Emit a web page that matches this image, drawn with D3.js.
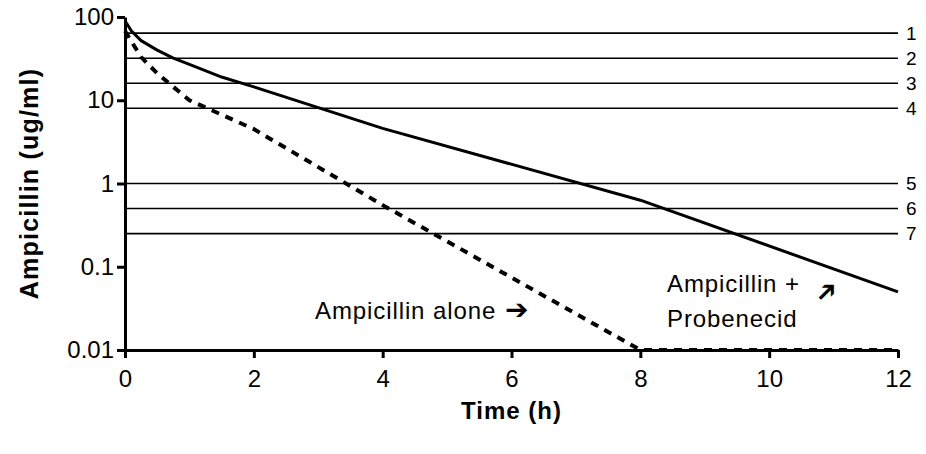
<!DOCTYPE html>
<html>
<head>
<meta charset="utf-8">
<script src="https://cdn.jsdelivr.net/npm/d3@7"></script>
<style>
  body { margin: 0; background: #fff; }
  svg { display: block; font-family: "Liberation Sans", Arial, sans-serif; }
</style>
</head>
<body>
<svg id="svg"></svg>
<script>
// time points (h) and concentrations (ug/ml)
const probTimes = [0, 0.1, 0.25, 0.5, 0.75, 1, 1.5, 2, 4, 8, 12];
const probValues = [90, 68, 52, 40, 32, 27, 19, 14.5, 4.6, 0.63, 0.05];

const aloneTimes = [0, 0.25, 0.5, 1, 2, 4, 8, 12];
const aloneValues = [68, 33, 21, 10, 4.5, 0.55, 0.01, 0.01];

// reference levels drawn as horizontal lines, numbered on the right
const levelValues = [64, 32, 16, 8, 1, 0.5, 0.25];
const levelLabels = ["1", "2", "3", "4", "5", "6", "7"];

const xTicks = [0, 2, 4, 6, 8, 10, 12];
const yTicks = [100, 10, 1, 0.1, 0.01];
const yTickLabels = ["100", "10", "1", "0.1", "0.01"];

const width = 926;
const height = 454;
const margin = { top: 17, right: 28, bottom: 104, left: 125 };
const chartWidth = width - margin.left - margin.right;
const chartHeight = height - margin.top - margin.bottom;

let svg = d3.select("#svg").attr("width", width).attr("height", height);

let chart = svg.append("g")
    .attr("transform", `translate(${margin.left},${margin.top})`);

const xScale = d3.scaleLinear().domain([0, 12]).range([0, chartWidth]);
const yScale = d3.scaleLog().domain([0.01, 100]).range([chartHeight, 0]);

// horizontal reference lines
chart.selectAll(".level")
    .data(levelValues)
    .enter().append("line")
    .attr("class", "level")
    .attr("x1", 0)
    .attr("x2", chartWidth)
    .attr("y1", d => yScale(d))
    .attr("y2", d => yScale(d))
    .attr("stroke", "#000")
    .attr("stroke-width", 1.6);

chart.selectAll(".level-label")
    .data(levelValues)
    .enter().append("text")
    .attr("class", "level-label")
    .attr("x", chartWidth + 8)
    .attr("y", d => yScale(d))
    .attr("dy", "0.36em")
    .style("font-size", "19px")
    .text((d, i) => levelLabels[i]);

// the two series
const line = d3.line()
    .x(d => xScale(d[0]))
    .y(d => yScale(d[1]));

const probData = probTimes.map((t, i) => [t, probValues[i]]);
const aloneData = aloneTimes.map((t, i) => [t, aloneValues[i]]);

chart.append("path")
    .datum(aloneData)
    .attr("fill", "none")
    .attr("stroke", "#000")
    .attr("stroke-width", 4)
    .attr("stroke-dasharray", "8,7")
    .attr("d", line);

chart.append("path")
    .datum(probData)
    .attr("fill", "none")
    .attr("stroke", "#000")
    .attr("stroke-width", 3)
    .attr("stroke-linejoin", "round")
    .attr("d", line);

// axes
const xAxis = chart.append("g")
    .attr("transform", `translate(0,${chartHeight})`)
    .call(d3.axisBottom(xScale).tickValues(xTicks).tickSize(8).tickPadding(12).tickSizeOuter(0));

const yAxis = chart.append("g")
    .call(d3.axisLeft(yScale).tickValues(yTicks).tickSize(8).tickPadding(3).tickSizeOuter(0)
        .tickFormat((d, i) => yTickLabels[i]));

[xAxis, yAxis].forEach(ax => {
    ax.select(".domain").attr("stroke-width", 3);
    ax.selectAll(".tick line").attr("stroke-width", 3);
    ax.selectAll("text")
        .style("font-family", "'Liberation Sans', Arial, sans-serif")
        .style("font-size", "24px")
        .attr("fill", "#000");
});

// axis titles
svg.append("text")
    .attr("x", margin.left + chartWidth / 2)
    .attr("y", 419)
    .attr("text-anchor", "middle")
    .style("font-size", "24px")
    .style("font-weight", "bold")
    .style("letter-spacing", "1px")
    .text("Time (h)");

svg.append("text")
    .attr("transform", `translate(38,${margin.top + chartHeight / 2}) rotate(-90)`)
    .attr("text-anchor", "middle")
    .style("font-size", "25px")
    .style("font-weight", "bold")
    .style("letter-spacing", "1.2px")
    .text("Ampicillin (ug/ml)");

// annotations
svg.append("text")
    .attr("x", 315)
    .attr("y", 319)
    .style("font-size", "24px")
    .style("letter-spacing", "0.9px")
    .text("Ampicillin alone");

svg.append("text")
    .attr("x", 505)
    .attr("y", 319)
    .style("font-family", "'DejaVu Sans'")
    .style("font-size", "28px")
    .style("font-weight", "bold")
    .text("\u2794");

svg.append("text")
    .attr("x", 667)
    .attr("y", 292)
    .style("font-size", "24px")
    .style("letter-spacing", "0.9px")
    .text("Ampicillin +");

svg.append("text")
    .attr("x", 667)
    .attr("y", 327)
    .style("font-size", "24px")
    .style("letter-spacing", "0.9px")
    .text("Probenecid");

svg.append("text")
    .attr("transform", "translate(826,291) rotate(-45)")
    .attr("text-anchor", "middle")
    .attr("dy", "0.35em")
    .style("font-family", "'DejaVu Sans'")
    .style("font-size", "27px")
    .style("font-weight", "bold")
    .text("\u2794");
</script>
</body>
</html>
